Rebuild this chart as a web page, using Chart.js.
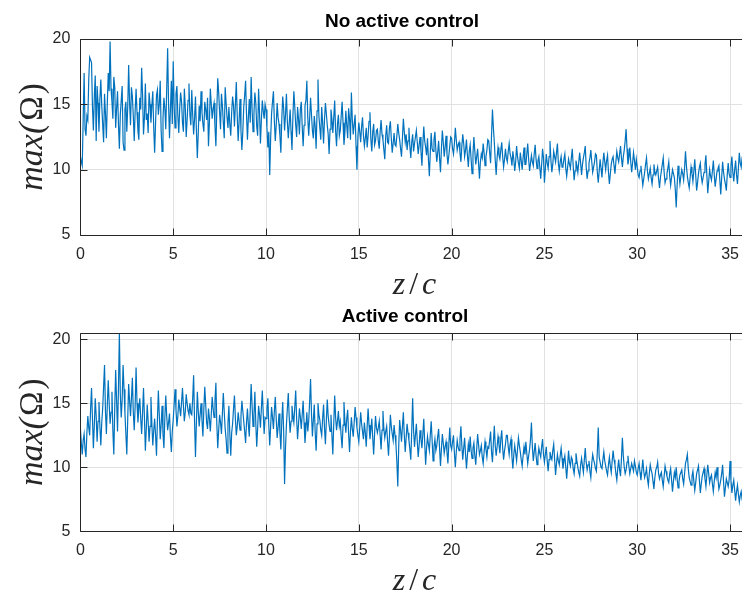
<!DOCTYPE html>
<html><head><meta charset="utf-8">
<script src="https://cdn.jsdelivr.net/npm/chart.js@4/dist/chart.umd.min.js"></script>
<style>
html,body{margin:0;padding:0;background:#fff;overflow:hidden;}
#wrap{position:relative;width:742px;height:592px;overflow:hidden;background:#fff;}
.pane{position:absolute;left:0;width:760px;height:296px;}
</style></head><body>
<div id="wrap">
<div class="pane" style="top:0"><canvas id="c1" width="760" height="296"></canvas></div>
<div class="pane" style="top:296px"><canvas id="c2" width="760" height="296"></canvas></div>
</div>
<script>
// ---- data ----
const zStep = 0.05;          // spacing of samples along z/c
const xTicks = [0, 5, 10, 15, 20, 25, 30, 35];
const yTicks = [5, 10, 15, 20];
const titles = ['No active control', 'Active control'];
const xLabel = ['z', '/', 'c'];
const yLabel = ['max(', 'Ω', ')'];

// one row per unit of z/c
const noControl = [
 11.0,10.6,10.3,13.9,17.4,13.1,12.6,14.1,13.8,16.9,18.6,18.4,18.2,14.8,13.0,15.6,17.2,12.2,16.4,15.1,
 12.9,15.4,16.9,14.9,13.5,12.1,15.8,14.3,12.4,15.1,17.4,16.0,19.8,16.2,15.2,13.9,17.1,16.3,13.2,14.7,
 16.0,13.5,11.6,14.2,15.3,16.4,12.1,11.5,14.6,15.2,12.9,14.8,18.0,15.1,13.4,16.3,15.6,14.1,12.2,14.5,
 16.2,14.4,13.0,12.3,15.5,14.6,17.8,15.7,12.7,14.0,16.6,13.8,14.3,12.8,15.9,15.0,13.6,14.9,16.0,13.2,
 11.3,13.6,15.7,16.1,14.2,15.0,16.8,13.0,11.4,13.9,15.5,14.7,13.1,16.2,19.3,15.0,12.4,14.6,16.8,13.5,
 18.3,14.9,13.2,15.8,16.4,14.1,12.8,14.7,15.9,15.2,13.6,12.9,16.2,14.8,12.5,13.8,15.3,16.6,14.2,13.4,
 16.1,14.2,12.7,13.9,15.6,13.0,10.9,12.8,14.9,13.7,16.0,14.4,13.5,12.9,15.2,14.6,13.8,15.5,11.8,13.6,
 16.2,15.0,13.9,14.7,15.1,13.3,11.8,14.6,17.0,15.9,14.4,13.1,15.8,14.9,13.6,12.4,16.3,15.1,14.0,13.2,
 14.8,13.5,12.6,14.4,15.6,14.9,13.3,15.0,16.7,14.1,12.2,13.7,15.4,13.0,11.5,12.9,14.8,15.7,16.8,14.2,
 12.3,14.0,15.4,13.6,17.1,14.6,12.9,14.3,15.9,15.1,13.3,12.6,16.2,14.4,12.0,13.8,15.3,14.5,13.9,15.0,
 14.6,13.2,11.7,12.9,9.6,12.4,14.3,15.2,16.0,13.7,12.2,13.4,15.1,14.0,13.5,12.6,11.3,13.8,15.6,14.7,
 13.0,14.2,15.8,13.7,12.4,13.5,14.6,12.9,11.5,14.1,16.0,14.8,13.4,12.5,14.8,13.9,12.7,14.6,15.2,13.3,
 11.8,13.4,14.9,15.3,16.8,14.0,12.6,13.9,15.5,14.2,13.0,12.4,14.1,13.3,11.6,14.5,16.9,14.1,13.2,12.3,
 14.8,13.6,12.0,13.8,15.1,14.3,13.4,12.7,11.2,13.1,14.6,13.9,12.8,14.0,15.3,12.9,11.8,13.5,14.2,12.6,
 13.0,14.1,15.2,13.6,11.9,12.8,14.5,13.4,12.4,14.7,13.9,12.3,15.9,13.8,12.7,13.5,14.2,11.8,10.0,12.5,
 13.6,12.9,12.1,13.3,14.0,12.6,11.8,12.4,13.2,11.7,12.6,13.7,14.4,12.3,11.4,12.9,13.5,11.9,12.2,13.0,
 13.1,12.2,11.6,12.9,13.8,12.7,12.3,11.5,10.8,12.6,13.4,12.1,12.0,13.2,13.7,12.4,11.3,12.0,12.8,11.9,
 11.8,12.6,13.5,12.8,12.3,11.6,11.0,12.4,13.9,12.9,12.1,12.7,11.5,12.2,13.2,11.8,10.9,12.1,12.7,11.4,
 12.0,12.5,13.0,12.1,11.2,11.9,12.5,11.4,10.3,12.0,13.3,12.2,11.7,11.1,12.4,10.8,9.5,11.3,12.8,11.6,
 11.4,12.3,12.9,11.5,10.6,11.3,12.2,10.9,9.8,11.6,13.0,12.1,11.0,11.7,12.6,11.2,10.4,11.1,11.8,12.5,
 12.4,11.6,11.2,12.0,13.2,12.3,11.5,11.9,12.1,11.3,10.6,11.8,12.7,12.0,11.0,11.5,12.3,11.1,10.2,11.4,
 11.9,10.8,9.7,11.2,12.5,11.4,10.4,11.0,11.6,10.5,9.3,10.6,11.2,10.9,12.0,11.3,10.3,11.0,11.5,12.3,
 12.2,11.3,10.5,12.6,14.6,13.2,12.1,10.7,9.6,10.9,11.7,11.1,10.8,11.5,12.1,11.0,10.2,10.8,11.6,10.9,
 10.6,11.4,12.0,11.2,10.9,10.3,11.4,10.8,9.9,10.6,11.8,11.0,10.5,10.1,11.3,10.7,10.0,10.9,11.7,10.4,
 10.4,11.2,12.0,10.8,9.9,10.5,11.1,10.6,10.3,11.2,11.9,10.8,10.1,10.7,11.0,10.2,9.3,10.4,11.6,10.9,
 9.0,10.1,11.2,10.5,10.1,11.0,12.2,10.7,9.8,10.4,11.4,11.0,10.6,11.3,12.0,10.5,9.9,10.6,11.0,10.2,
 10.3,10.8,11.2,10.1,9.5,10.2,10.8,10.4,10.1,10.9,11.6,10.3,9.2,9.9,10.7,10.3,9.8,10.6,11.3,10.5,
 9.6,10.4,10.9,11.3,11.8,10.2,9.3,9.9,10.5,10.9,11.5,10.6,9.8,10.2,10.6,11.2,11.1,9.8,9.0,9.9,
 10.8,10.1,9.4,10.5,11.3,10.6,10.0,10.7,11.1,9.8,8.9,9.7,10.4,10.8,11.0,10.3,9.7,10.6,11.4,10.9,
 10.6,11.2,11.8,10.9,10.2,11.0,11.5,12.2,13.1,11.6,10.4,10.9,11.7,10.6,9.8,10.5,11.3,10.7,10.0,10.8,
 10.2,9.6,9.4,9.9,10.3,9.5,8.8,9.3,9.8,10.4,10.9,9.9,9.3,9.7,10.1,9.4,8.9,9.6,10.4,9.8,
 9.6,9.9,10.2,9.3,8.6,9.4,9.9,10.4,10.9,9.8,9.0,9.3,9.7,10.1,10.6,9.5,8.8,9.4,10.0,9.7,
 9.4,8.5,7.1,8.8,10.3,9.6,8.9,9.5,10.0,9.7,9.2,10.1,11.4,10.3,9.5,9.0,8.6,9.4,10.2,9.7,
 9.1,9.9,10.8,9.6,8.4,9.0,9.7,10.2,10.5,9.5,9.0,9.4,9.8,10.4,11.1,9.6,8.2,9.1,10.0,9.5,
 9.2,9.9,10.7,9.6,8.7,9.3,9.9,10.1,10.3,9.2,8.1,9.4,10.6,9.8,9.3,8.9,8.4,9.6,10.5,9.7,
 9.4,10.3,11.0,9.8,9.1,10.0,10.7,9.6,8.9,10.1,11.3,10.5,10.2,10.9,10.8,10.4
];

const activeControl = [
 13.0,11.9,11.0,12.1,12.6,11.4,10.8,12.7,14.0,13.1,12.5,14.6,16.2,13.8,11.5,13.3,15.4,14.0,12.0,13.6,
 15.1,13.2,11.7,13.5,14.6,16.3,18.0,14.4,12.6,14.9,16.8,15.0,13.4,14.3,15.9,12.8,11.0,14.6,17.6,15.2,
 12.8,16.1,20.5,15.7,13.9,15.3,18.0,16.1,14.2,12.6,11.0,13.8,16.5,15.2,14.0,15.4,17.0,14.3,12.9,14.8,
 17.8,15.0,13.5,14.6,15.4,13.8,12.6,14.3,16.2,13.9,11.3,13.0,14.9,13.6,12.0,13.2,15.5,13.4,11.7,12.9,
 13.8,12.5,10.9,13.7,16.0,14.1,12.2,13.3,14.8,12.6,11.5,13.9,15.6,14.0,12.9,13.5,14.2,12.4,11.2,12.8,
 13.7,14.9,16.1,14.5,13.2,14.0,15.3,14.6,14.0,15.1,16.2,14.8,13.6,14.3,15.7,15.0,14.4,14.1,15.0,14.2,
 14.1,15.4,17.2,13.6,10.8,13.5,15.9,14.4,13.2,14.1,15.0,13.7,12.4,14.5,16.3,14.9,13.5,13.0,14.6,13.8,
 12.8,14.1,15.5,14.6,13.9,15.2,16.6,13.4,11.5,12.9,14.1,13.5,12.6,14.2,15.8,14.3,13.0,12.2,11.1,13.4,
 14.8,12.6,10.9,12.7,13.4,14.6,15.6,13.8,12.5,13.2,14.3,13.6,12.9,14.0,15.2,14.4,13.6,12.8,11.9,13.5,
 14.6,13.3,12.4,14.5,16.5,14.8,13.2,14.1,15.9,13.4,11.6,13.1,14.8,14.1,13.1,14.6,16.0,14.2,12.6,13.9,
 13.8,14.6,15.4,13.3,11.7,13.2,14.7,13.9,13.0,14.4,15.5,13.8,12.3,13.1,14.2,12.7,11.4,13.6,15.1,12.9,
 8.7,11.5,13.3,14.6,15.8,13.9,12.7,13.6,14.8,14.0,13.5,14.7,16.0,13.8,12.2,13.3,14.6,13.9,13.0,14.1,
 15.2,13.5,11.9,13.0,14.3,12.8,13.6,15.1,16.9,14.2,12.4,13.7,14.9,12.7,11.3,13.4,15.0,14.1,13.7,12.9,
 12.5,13.8,14.9,13.1,11.8,13.6,15.3,14.0,13.3,12.8,14.1,12.5,11.0,13.4,15.6,13.9,12.9,13.6,14.4,13.2,
 13.6,12.4,11.5,13.3,15.1,13.6,12.7,13.8,14.5,12.6,11.2,12.8,13.9,13.0,12.4,13.5,14.7,13.9,13.1,12.5,
 12.0,13.1,14.3,13.4,12.8,12.2,13.5,12.7,11.6,13.2,14.6,13.3,12.2,12.9,13.8,12.3,11.0,12.6,14.0,13.1,
 12.7,13.1,13.6,12.5,11.4,12.9,14.4,13.0,12.3,12.8,13.2,12.0,10.9,12.4,14.1,13.2,12.6,12.1,13.3,12.5,
 11.8,10.4,8.5,11.6,13.7,12.9,12.0,13.2,14.3,12.5,11.2,12.3,13.4,12.7,12.1,11.4,10.6,12.8,15.4,12.9,
 11.6,12.5,13.4,12.0,10.8,11.7,12.9,12.2,11.5,12.6,13.8,11.9,10.2,11.5,12.4,11.8,11.3,12.5,13.6,12.1,
 10.5,11.6,12.2,11.3,11.7,12.4,13.0,11.5,10.1,11.4,12.6,11.9,11.1,11.6,12.0,11.2,10.3,11.8,13.1,11.7,
 11.4,12.0,12.5,11.1,10.0,11.2,12.1,11.6,11.3,12.2,13.2,11.7,10.6,11.5,12.3,11.0,9.9,10.9,11.8,11.2,
 12.4,11.3,10.7,11.5,11.9,10.9,10.2,11.4,12.6,11.8,11.0,11.3,11.7,10.8,10.3,11.2,12.0,11.4,10.8,11.6,
 11.5,12.1,12.8,11.2,10.4,11.9,13.25,11.7,10.9,11.6,12.4,11.8,11.1,12.2,12.9,11.5,10.6,11.3,11.8,12.5,
 12.5,11.6,11.0,11.8,12.2,10.8,9.9,11.0,11.7,11.1,10.5,11.4,12.3,11.7,11.2,10.6,10.1,10.9,11.6,11.0,
 12.0,11.1,10.3,10.9,11.4,12.2,13.5,11.6,10.5,11.2,11.9,10.9,10.2,10.8,11.5,11.1,10.8,11.6,12.2,11.0,
 10.4,11.0,11.6,10.5,9.7,10.6,11.2,10.8,10.6,11.3,11.8,10.6,9.4,10.3,11.0,10.5,10.2,10.9,11.5,10.7,
 9.9,10.5,10.9,10.0,9.1,10.2,11.3,10.4,10.1,10.8,10.6,9.9,9.5,10.3,11.1,10.5,10.0,9.6,9.3,10.2,
 10.7,10.1,9.6,10.6,11.5,10.4,9.8,10.2,10.5,9.7,9.2,10.3,11.0,10.6,10.3,9.9,9.7,11.2,13.1,10.8,
 10.4,10.0,9.9,10.6,11.2,10.5,10.1,9.7,9.4,10.2,10.8,10.1,9.6,10.5,11.3,10.6,10.2,9.5,9.0,9.9,
 10.6,9.8,9.3,10.7,12.3,10.9,10.0,9.5,9.8,10.4,10.9,10.1,9.5,9.9,10.3,10.0,9.7,10.5,10.1,9.6,
 9.4,9.9,10.3,9.6,9.0,9.8,10.6,9.7,9.2,9.5,9.9,9.1,8.6,9.5,10.2,9.8,9.5,8.9,8.3,9.2,
 9.8,10.0,10.4,9.5,9.1,9.4,9.6,9.0,8.5,9.3,10.1,9.7,9.3,9.0,8.8,9.5,9.9,9.0,8.1,8.9,
 9.6,9.2,10.0,9.1,8.4,8.9,9.4,9.6,9.8,9.1,8.7,9.5,10.3,10.6,11.0,9.9,9.2,8.9,8.6,9.3,
 9.7,8.9,8.2,8.8,9.5,9.8,10.1,9.0,8.0,8.7,9.3,9.6,9.9,9.1,8.5,9.4,10.2,9.5,8.8,9.2,
 9.4,8.7,8.1,8.9,9.6,9.2,10.0,9.1,8.3,8.6,9.0,9.5,10.2,8.9,7.7,8.4,9.1,8.8,8.5,9.0,
 10.5,9.0,8.0,8.6,9.0,8.2,7.4,8.1,8.6,7.9,7.3,7.8,8.1,7.5,7.6,8.0
];

// ---- drawing ----
const TXT = '#262626';
const frame = {
  id: 'frame',
  afterDatasetsDraw(chart, args, o) {
    const {ctx, chartArea: a, scales: {x, y}} = chart;
    ctx.save();
    ctx.strokeStyle = TXT; ctx.lineWidth = 1;
    const L = Math.round(a.left) + 0.5, T = Math.round(a.top) + 0.5,
          R = Math.round(a.right) + 0.5, B = Math.round(a.bottom) + 0.5;
    ctx.beginPath();
    ctx.moveTo(L, T); ctx.lineTo(R, T); ctx.lineTo(R, B); ctx.lineTo(L, B); ctx.closePath();
    const tl = 7;
    x.ticks.forEach(t => {
      const px = Math.round(x.getPixelForValue(t.value)) + 0.5;
      ctx.moveTo(px, B); ctx.lineTo(px, B - tl);
      ctx.moveTo(px, T); ctx.lineTo(px, T + tl);
    });
    y.ticks.forEach(t => {
      const py = Math.round(y.getPixelForValue(t.value)) + 0.5;
      ctx.moveTo(L, py); ctx.lineTo(L + tl, py);
      ctx.moveTo(R, py); ctx.lineTo(R - tl, py);
    });
    ctx.stroke();
    ctx.restore();
  },
  afterDraw(chart, args, o) {
    const {ctx, chartArea: a} = chart;
    ctx.save();
    ctx.fillStyle = '#000';
    ctx.textAlign = 'center'; ctx.textBaseline = 'middle';
    ctx.font = 'bold 19px "Liberation Sans", Arial, sans-serif';
    ctx.fillText(o.title, o.titleX, o.titleY);
    ctx.fillStyle = TXT;
    const drawSeq = (parts, fonts, gap) => {
      const w = parts.map((p, i) => { ctx.font = fonts[i]; return ctx.measureText(p).width; });
      const total = w.reduce((s, v) => s + v, 0) + gap * (parts.length - 1);
      let cur = -total / 2;
      ctx.textAlign = 'left';
      parts.forEach((p, i) => { ctx.font = fonts[i]; ctx.fillText(p, cur, 0); cur += w[i] + gap; });
    };
    const cx = (a.left + a.right) / 2;
    ctx.save();
    ctx.translate(cx, a.bottom + o.xLabelOff);
    ctx.textBaseline = 'alphabetic';
    const fz = 'italic 32px "Liberation Serif", "Times New Roman", serif';
    drawSeq(xLabel, [fz, '32px "Liberation Serif", serif', fz], 4);
    ctx.restore();
    ctx.save();
    ctx.translate(o.yLabelX, (a.top + a.bottom) / 2);
    ctx.rotate(-Math.PI / 2);
    ctx.textBaseline = 'alphabetic';
    drawSeq(yLabel, ['italic 34px "Liberation Serif", serif', '33px "Liberation Serif", serif', '33px "Liberation Serif", serif'], 2);
    ctx.restore();
    ctx.restore();
  }
};

function makeChart(id, values, ymax, padTop, xAxisH, title, titleX, titleY) {
  const pts = values.map((v, i) => ({x: +(i * zStep).toFixed(3), y: v}));
  return new Chart(document.getElementById(id), {
    type: 'line',
    data: {datasets: [{data: pts, borderColor: '#0072BD', borderWidth: 1.2, pointRadius: 0, tension: 0, fill: false}]},
    plugins: [frame],
    options: {
      responsive: false, animation: false, events: [],
      layout: {padding: {top: padTop, right: 760 - 748.6, bottom: 0, left: 0}},
      plugins: {legend: {display: false}, tooltip: {enabled: false}, title: {display: false},
        frame: {title, titleX, titleY, xLabelOff: 59, yLabelX: 42}},
      scales: {
        x: {type: 'linear', min: 0, max: 36,
          afterBuildTicks: s => { s.ticks = xTicks.map(v => ({value: v})); },
          afterFit: s => { s.height = xAxisH; },
          grid: {color: '#e1e1e1', lineWidth: 1, drawTicks: false},
          border: {display: false},
          ticks: {color: TXT, padding: 10, maxRotation: 0, font: {family: '"Liberation Sans", Arial, sans-serif', size: 16}}},
        y: {type: 'linear', min: 5, max: ymax,
          afterBuildTicks: s => { s.ticks = yTicks.map(v => ({value: v})); },
          afterFit: s => { s.width = 80.4; },
          grid: {color: '#e1e1e1', lineWidth: 1, drawTicks: false},
          border: {display: false},
          ticks: {color: TXT, padding: 10, font: {family: '"Liberation Sans", Arial, sans-serif', size: 16}}}
      }
    }
  });
}

makeChart('c1', noControl, 20, 39, 61, titles[0], 402, 22);
makeChart('c2', activeControl, 20.47, 37.3, 60.7, titles[1], 405, 21);
</script>
</body></html>
